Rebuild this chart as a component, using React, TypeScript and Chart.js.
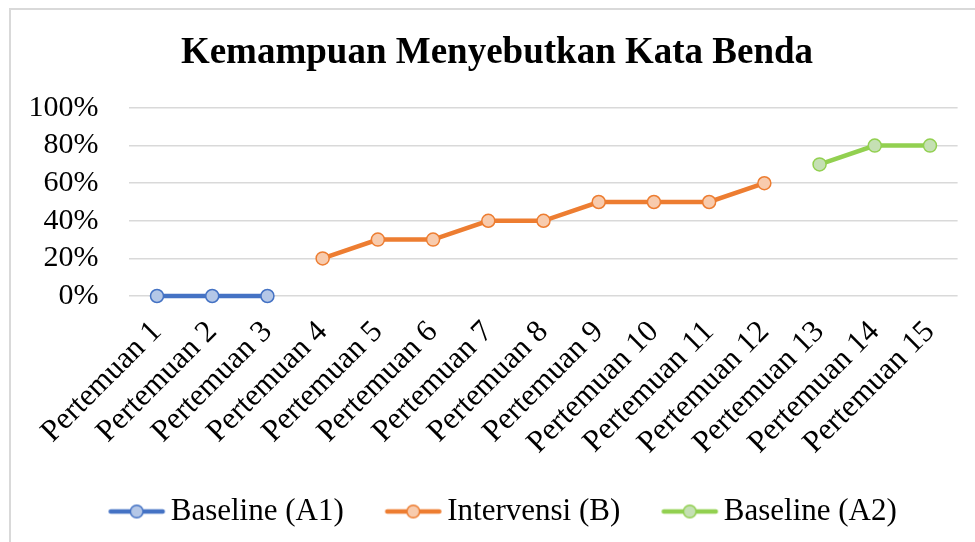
import React, { useEffect, useRef } from "react";
import { Chart, registerables } from "chart.js";
Chart.register(...registerables);

const FONT = "'Liberation Serif', 'Times New Roman', serif";

const categories = [
  "Pertemuan 1", "Pertemuan 2", "Pertemuan 3", "Pertemuan 4", "Pertemuan 5",
  "Pertemuan 6", "Pertemuan 7", "Pertemuan 8", "Pertemuan 9", "Pertemuan 10",
  "Pertemuan 11", "Pertemuan 12", "Pertemuan 13", "Pertemuan 14", "Pertemuan 15",
];
const baselineA1 = [0, 0, 0, null, null, null, null, null, null, null, null, null, null, null, null];
const intervensiB = [null, null, null, 20, 30, 30, 40, 40, 50, 50, 50, 60, null, null, null];
const baselineA2 = [null, null, null, null, null, null, null, null, null, null, null, null, 70, 80, 80];
const seriesNames = ["Baseline (A1)", "Intervensi (B)", "Baseline (A2)"];
const yTicks = [0, 20, 40, 60, 80, 100];
const chartTitle = "Kemampuan Menyebutkan Kata Benda";

const lineColors = ["#4472C4", "#ED7D31", "#92D050"];
const fillColors = ["#B4C7E7", "#F8CBAD", "#C5E0B4"];

function makeMarker(line: string, fill: string) {
  const c = document.createElement("canvas");
  c.width = 80;
  c.height = 16;
  const ctx = c.getContext("2d")!;
  ctx.strokeStyle = line;
  ctx.lineWidth = 4.5;
  ctx.lineCap = "round";
  ctx.beginPath();
  ctx.moveTo(24.5, 8);
  ctx.lineTo(76.5, 8);
  ctx.stroke();
  ctx.beginPath();
  ctx.arc(50.5, 8, 6.3, 0, Math.PI * 2);
  ctx.fillStyle = fill;
  ctx.fill();
  ctx.lineWidth = 1.5;
  ctx.stroke();
  return c;
}

export default function App() {
  const ref = useRef<HTMLCanvasElement | null>(null);
  useEffect(() => {
    document.body.style.margin = "0";
    const markers = lineColors.map((c, i) => makeMarker(c, fillColors[i]));
    const seriesData = [baselineA1, intervensiB, baselineA2];
    const chart = new Chart(ref.current!, {
      type: "line",
      data: {
        labels: categories,
        datasets: seriesData.map((d, i) => ({
          label: seriesNames[i],
          data: d,
          borderColor: lineColors[i],
          backgroundColor: fillColors[i],
          borderWidth: 4.5,
          pointRadius: 6.5,
          pointBorderWidth: 1.5,
          pointBackgroundColor: fillColors[i],
          pointBorderColor: lineColors[i],
          spanGaps: false,
          tension: 0,
          clip: false,
        })),
      },
      options: {
        responsive: false,
        animation: false,
        layout: { padding: { left: 19, right: 0, top: 0, bottom: 5 } },
        plugins: {
          title: {
            display: true,
            text: chartTitle,
            color: "#000",
            font: { family: FONT, size: 37, weight: "bold" },
            padding: { top: 31, bottom: 32.6 },
          },
          legend: {
            position: "bottom",
            labels: {
              usePointStyle: true,
              pointStyleWidth: 58,
              color: "#000",
              font: { family: FONT, size: 31 },
              padding: 30,
              generateLabels: (ch: any) =>
                (Chart.defaults.plugins.legend.labels as any)
                  .generateLabels(ch)
                  .map((l: any, i: number) => ({ ...l, pointStyle: markers[i] })),
            },
          },
          tooltip: { enabled: false },
        },
        scales: {
          x: {
            offset: true,
            grid: { display: false },
            border: { display: false },
            ticks: {
              color: "#000",
              font: { family: FONT, size: 31 },
              minRotation: 45,
              maxRotation: 45,
              autoSkip: false,
              padding: 10,
            },
            afterFit: (s: any) => { s.height = 170; },
          },
          y: {
            min: 0,
            max: 100,
            afterBuildTicks: (s: any) => { s.ticks = yTicks.map((v) => ({ value: v })); },
            grid: { color: "#D9D9D9", lineWidth: 1.5, drawTicks: false },
            border: { display: false },
            ticks: {
              color: "#000",
              font: { family: FONT, size: 30 },
              padding: 31,
              autoSkip: false,
              callback: (v: any) => v + "%",
            },
            afterFit: (s: any) => { s.width = 110.4; },
          },
          y2: {
            position: "right",
            display: true,
            grid: { display: false, drawTicks: false },
            border: { display: false },
            ticks: { display: false },
            afterFit: (s: any) => { s.width = 17.4; },
          },
        },
      },
    } as any);
    return () => chart.destroy();
  }, []);
  return (
    <div style={{ position: "relative", width: 975, height: 542, overflow: "hidden", background: "#fff" }}>
      <div
        style={{
          position: "absolute",
          left: 9,
          top: 8,
          width: 2000,
          height: 2000,
          borderLeft: "2px solid #D9D9D9",
          borderTop: "2px solid #D9D9D9",
        }}
      />
      <canvas ref={ref} width={975} height={542} style={{ position: "absolute", left: 0, top: 0 }} />
    </div>
  );
}
